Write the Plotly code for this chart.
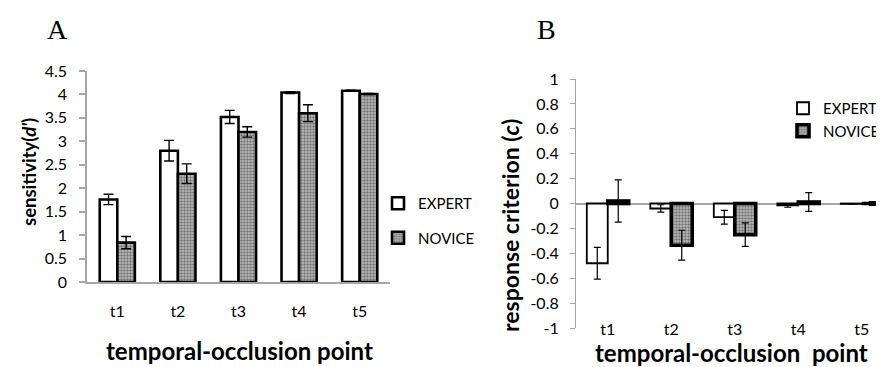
import plotly.graph_objects as go

categories = ["t1", "t2", "t3", "t4", "t5"]

# Panel A: sensitivity (d')
a_expert = [1.76, 2.80, 3.52, 4.04, 4.08]
a_expert_err = [0.11, 0.22, 0.14, 0.02, 0.01]
a_novice = [0.84, 2.31, 3.20, 3.60, 4.01]
a_novice_err = [0.13, 0.21, 0.11, 0.18, 0.01]
a_ticks = [0, 0.5, 1, 1.5, 2, 2.5, 3, 3.5, 4, 4.5]
a_ticktext = ["0", "0.5", "1", "1.5", "2", "2.5", "3", "3.5", "4", "4.5"]

# Panel B: response criterion (c)
b_expert = [-0.48, -0.04, -0.11, -0.015, -0.003]
b_expert_err = [0.127, 0.03, 0.055, 0.015, 0.0]
b_novice = [0.02, -0.335, -0.25, 0.012, 0.0]
b_novice_err = [0.17, 0.12, 0.095, 0.075, 0.015]
b_ticks = [-1, -0.8, -0.6, -0.4, -0.2, 0, 0.2, 0.4, 0.6, 0.8, 1]
b_ticktext = ["-1", "-0.8", "-0.6", "-0.4", "-0.2", "0", "0.2", "0.4", "0.6", "0.8", "1"]

# page body has an 8px margin: the figure is drawn at (8, 8)
OFF = 8
W, H = 884 - OFF, 367 - OFF
FONT = "Lato"
AXIS_GRAY = "#a6a6a6"

def px(x):
    return (x - OFF) / W

def py(y):
    return (367 - y) / H

novice_pattern = dict(shape=".", bgcolor="#c0c0c0", fgcolor="#2a2a2a", size=3, solidity=0.5)

fig = go.Figure()

wa = 0.29
fig.add_trace(go.Bar(
    x=categories, y=a_expert, xaxis="x", yaxis="y", name="EXPERT",
    width=wa, offset=-wa,
    marker=dict(color="white", line=dict(color="black", width=2.6)),
    error_y=dict(type="data", array=a_expert_err, color="black", thickness=1.4, width=5),
    legend="legend", legendgroup="ae",
))
fig.add_trace(go.Bar(
    x=categories, y=a_novice, xaxis="x", yaxis="y", name="NOVICE",
    width=wa, offset=0,
    marker=dict(color="#c0c0c0", pattern=novice_pattern, line=dict(color="black", width=2.6)),
    error_y=dict(type="data", array=a_novice_err, color="black", thickness=1.4, width=5),
    legend="legend", legendgroup="an",
))

wb = 0.33
fig.add_trace(go.Bar(
    x=categories, y=b_expert, xaxis="x2", yaxis="y2", name="EXPERT",
    width=wb, offset=-wb,
    marker=dict(color="white", line=dict(color="black", width=1.8)),
    error_y=dict(type="data", array=b_expert_err, color="black", thickness=1.2, width=3.5),
    legend="legend2",
))
fig.add_trace(go.Bar(
    x=categories, y=b_novice, xaxis="x2", yaxis="y2", name="NOVICE",
    width=wb, offset=0,
    marker=dict(color="#c0c0c0", pattern=novice_pattern, line=dict(color="black", width=3.6)),
    error_y=dict(type="data", array=b_novice_err, color="black", thickness=1.2, width=3.5),
    legend="legend2",
))

tickfont = dict(family=FONT, size=16, color="black")

def ann(text, x, y, size, family=FONT, angle=0):
    return dict(text=text, x=px(x), y=py(y), xref="paper", yref="paper", showarrow=False,
                xanchor="center", yanchor="middle", textangle=angle,
                font=dict(family=family, size=size, color="black"))

fig.update_layout(
    width=W, height=H,
    margin=dict(l=0, r=0, t=0, b=0, autoexpand=False),
    paper_bgcolor="white", plot_bgcolor="white",
    barmode="overlay",
    font=dict(family=FONT, color="black"),
    xaxis=dict(
        domain=[px(87), px(390)], anchor="y", range=[-0.5, 4.5],
        showline=True, linecolor=AXIS_GRAY, linewidth=1.5,
        ticks="", showgrid=False, zeroline=False,
        tickfont=tickfont, ticklabelstandoff=14, automargin=False,
    ),
    yaxis=dict(
        domain=[py(282), py(71)], anchor="x", range=[0, 4.5],
        tickvals=a_ticks, ticktext=a_ticktext,
        showline=True, linecolor=AXIS_GRAY, linewidth=1.5,
        ticks="outside", ticklen=6, tickcolor=AXIS_GRAY, tickwidth=1.5,
        showgrid=False, zeroline=False, tickfont=tickfont, automargin=False,
        ticklabelstandoff=9,
    ),
    xaxis2=dict(
        domain=[px(576), 1.0], anchor="free", position=py(318), range=[-0.5, 4.35],
        showline=False, ticks="", showgrid=False, zeroline=False,
        tickfont=tickfont, automargin=False,
    ),
    yaxis2=dict(
        domain=[py(328), py(79)], anchor="x2", range=[-1, 1],
        tickvals=b_ticks, ticktext=b_ticktext,
        showline=True, linecolor=AXIS_GRAY, linewidth=1.2,
        ticks="outside", ticklen=5, tickcolor=AXIS_GRAY, tickwidth=1.2,
        showgrid=False, zeroline=True, zerolinecolor=AXIS_GRAY, zerolinewidth=1.6,
        tickfont=tickfont, automargin=False, ticklabelstandoff=8,
    ),
    legend=dict(
        x=px(378), y=py(187), xanchor="left", yanchor="top",
        font=dict(family=FONT, size=15, color="black"),
        bgcolor="rgba(0,0,0,0)", itemwidth=30, tracegroupgap=12,
        traceorder="grouped",
    ),
    legend2=dict(
        x=px(783), y=py(92), xanchor="left", yanchor="top",
        font=dict(family=FONT, size=15, color="black"),
        bgcolor="rgba(0,0,0,0)", itemwidth=30, tracegroupgap=0,
    ),
    annotations=[
        ann("A", 57, 30, 28, family="Liberation Serif"),
        ann("B", 546, 29, 28, family="Liberation Serif"),
        ann("<b>sensitivity(<i>d'</i>)</b>", 29, 172, 18.5, angle=-90),
        ann("<b>response criterion (<i>c</i>)</b>", 510, 226, 23, angle=-90),
        ann("<b>temporal-occlusion point</b>", 239, 350, 24),
        ann("<b>temporal-occlusion  point</b>", 731, 352, 24),
    ],
)

fig.write_html("out.html")
